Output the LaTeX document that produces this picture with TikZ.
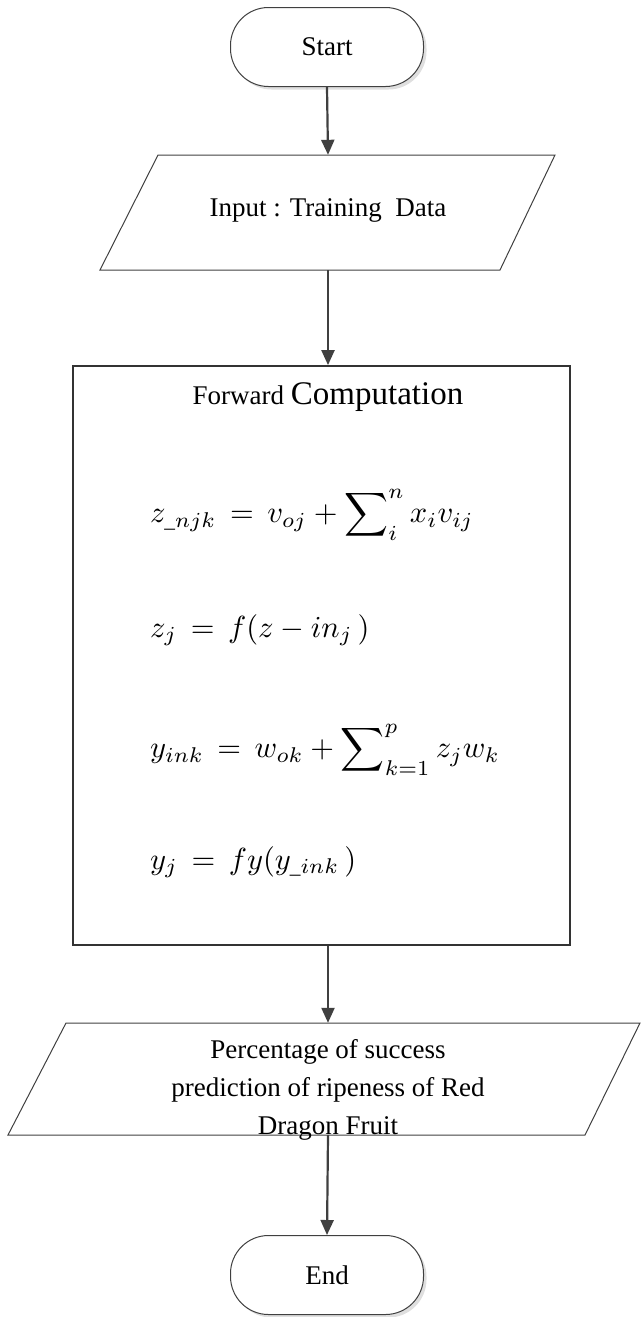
\documentclass[tikz,border=0pt]{standalone}
\usepackage{amsmath}
\usepackage{fontspec}
\setmainfont{Liberation Serif}
\usetikzlibrary{arrows.meta,shadows}
\newcommand{\bigeq}[1]{\scalebox{3.05}{#1}}
\begin{document}
\begin{tikzpicture}[x=1pt,y=-1pt,
  term/.style={draw=black!75,line width=1pt,fill=white,rounded corners=38pt,minimum width=193pt,minimum height=79pt,font=\fontsize{27}{32}\selectfont,drop shadow={opacity=0.25,shadow xshift=3pt,shadow yshift=-3pt}},
  para/.style={draw=black!75,line width=1pt},
  ghost/.style={inner sep=0pt},
  flow/.style={draw=black!75,line width=2.2pt,-{Triangle[length=15pt,width=13pt]}},
  eq/.style={anchor=west,inner sep=0pt}
]
\useasboundingbox (0,0) rectangle (643,1317);
% Start
\node[term] (start) at (327,47) {Start};
% Input parallelogram
\draw[para] (158,155) -- (555,155) -- (500,270) -- (100,270) -- cycle;
\node[ghost,minimum width=300pt,minimum height=115pt] (input) at (328,212.5) {};
\node[font=\fontsize{27}{32}\selectfont] (inputtxt) at (328,210) {Input : Training\ \ Data};
% Forward computation box
\node[draw=black!80,line width=1.8pt,minimum width=497pt,minimum height=579pt,inner sep=0pt] (fwd) at (321.5,655.5) {};
\node (fwdtitle) at (328,397) {\fontsize{27}{32}\selectfont Forward \fontsize{33}{38}\selectfont Computation};
\node[eq] (eq1) at (150,515) {\bigeq{$\displaystyle z_{\_njk} \,=\, v_{oj} + \sum\nolimits_{i}^{n} x_i v_{ij}$}};
\node[eq] (eq2) at (150,630) {\bigeq{$z_j \,=\, f(z - in_j\,)$}};
\node[eq] (eq3) at (150,750) {\bigeq{$\displaystyle y_{ink} \,=\, w_{ok} + \sum\nolimits_{k=1}^{p} z_j w_k$}};
\node[eq] (eq4) at (150,862) {\bigeq{$y_j \,=\, fy(y_{\_ink}\,)$}};
% Output parallelogram
\draw[para] (66,1023) -- (640,1023) -- (585,1135) -- (8,1135) -- cycle;
\node[ghost,minimum width=500pt,minimum height=112pt] (output) at (323,1079) {};
\node[font=\fontsize{27}{38}\selectfont,align=center] (outtxt) at (328,1090) {Percentage of success\\prediction of ripeness of Red\\Dragon Fruit};
% End
\node[term] (end) at (327,1275) {End};
% connectors
\draw[flow] (start.south) -- (input.north);
\draw[flow] (input.south) -- (input.south |- fwd.north);
\draw[flow] (input.south |- fwd.south) -- (input.south |- output.north);
\draw[flow] (input.south |- output.south) -- (end.north);
\end{tikzpicture}
\end{document}
